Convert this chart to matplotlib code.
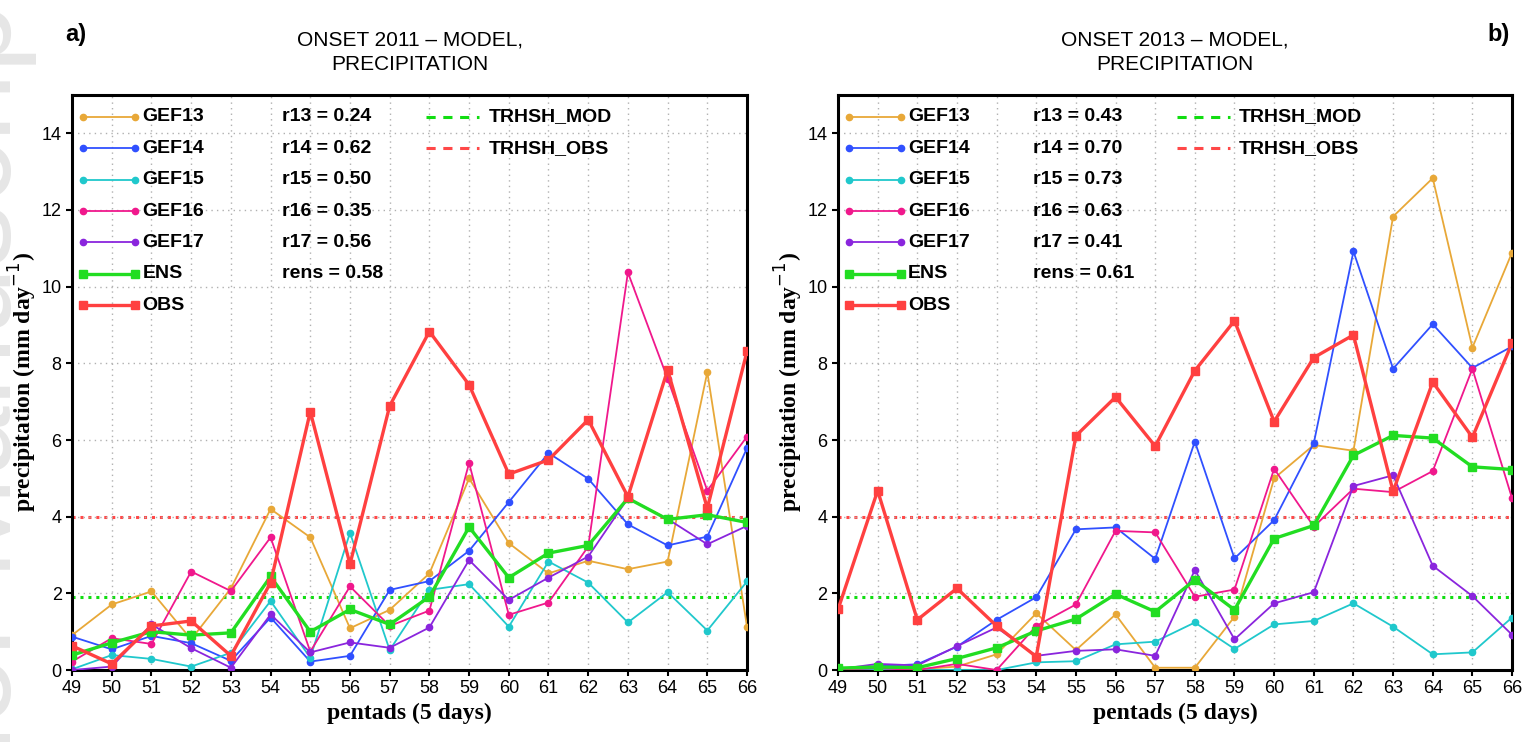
import matplotlib
matplotlib.use('Agg')
import matplotlib.pyplot as plt

# pentads on the x axis
pentads = list(range(49, 67))
xticks = pentads
yticks = [0, 2, 4, 6, 8, 10, 12, 14]

# thresholds
trhsh_mod = 1.9
trhsh_obs = 4.0

# ONSET 2011
gef13_11 = [0.91, 1.71, 2.05, 0.80, 2.13, 4.20, 3.46, 1.09, 1.57, 2.52, 5.00, 3.31, 2.52, 2.85, 2.63, 2.83, 7.77, 1.13]
gef14_11 = [0.87, 0.54, 0.89, 0.70, 0.24, 1.37, 0.22, 0.37, 2.09, 2.32, 3.11, 4.38, 5.66, 4.99, 3.80, 3.25, 3.48, 5.79]
gef15_11 = [0.02, 0.39, 0.29, 0.09, 0.45, 1.80, 0.32, 3.58, 0.52, 2.09, 2.24, 1.13, 2.83, 2.28, 1.24, 2.03, 1.03, 2.31]
gef16_11 = [0.22, 0.83, 0.68, 2.57, 2.06, 3.46, 0.48, 2.18, 1.15, 1.55, 5.40, 1.44, 1.76, 3.22, 10.37, 7.60, 4.68, 6.09]
gef17_11 = [0.00, 0.09, 1.19, 0.57, 0.06, 1.45, 0.46, 0.72, 0.58, 1.11, 2.87, 1.83, 2.41, 2.96, 4.48, 3.94, 3.28, 3.76]
ens_11 = [0.39, 0.71, 1.00, 0.91, 0.97, 2.44, 1.00, 1.58, 1.19, 1.91, 3.73, 2.41, 3.05, 3.25, 4.48, 3.93, 4.05, 3.85]
obs_11 = [0.63, 0.16, 1.15, 1.28, 0.37, 2.28, 6.74, 2.76, 6.89, 8.83, 7.44, 5.11, 5.48, 6.53, 4.52, 7.83, 4.22, 8.31]
r_11 = ['r13 = 0.24', 'r14 = 0.62', 'r15 = 0.50', 'r16 = 0.35', 'r17 = 0.56', 'rens = 0.58']

# ONSET 2013
gef13_13 = [0.02, 0.05, 0.02, 0.09, 0.41, 1.48, 0.52, 1.45, 0.06, 0.06, 1.39, 5.00, 5.87, 5.72, 11.83, 12.83, 8.41, 10.89]
gef14_13 = [0.03, 0.10, 0.15, 0.61, 1.31, 1.90, 3.67, 3.72, 2.90, 5.96, 2.91, 3.91, 5.92, 10.92, 7.86, 9.02, 7.88, 8.44]
gef15_13 = [0.05, 0.02, 0.00, 0.00, 0.00, 0.20, 0.23, 0.67, 0.74, 1.24, 0.55, 1.19, 1.28, 1.74, 1.13, 0.41, 0.46, 1.37]
gef16_13 = [0.02, 0.05, 0.00, 0.16, 0.00, 1.15, 1.71, 3.63, 3.59, 1.91, 2.10, 5.25, 3.74, 4.73, 4.64, 5.19, 7.86, 4.48]
gef17_13 = [0.02, 0.16, 0.12, 0.62, 1.11, 0.37, 0.50, 0.54, 0.37, 2.61, 0.80, 1.74, 2.03, 4.80, 5.08, 2.72, 1.93, 0.92]
ens_13 = [0.05, 0.08, 0.06, 0.30, 0.58, 1.02, 1.33, 1.98, 1.52, 2.35, 1.57, 3.43, 3.77, 5.60, 6.12, 6.05, 5.30, 5.23]
obs_13 = [1.58, 4.68, 1.31, 2.13, 1.15, 0.35, 6.11, 7.12, 5.84, 7.81, 9.11, 6.48, 8.15, 8.74, 4.66, 7.51, 6.07, 8.53]
r_13 = ['r13 = 0.43', 'r14 = 0.70', 'r15 = 0.73', 'r16 = 0.63', 'r17 = 0.41', 'rens = 0.61']

names = ['GEF13', 'GEF14', 'GEF15', 'GEF16', 'GEF17', 'ENS', 'OBS']
colors = ['#E8A838', '#3050FF', '#20C8CC', '#F0188C', '#8A25DD', '#22DD22', '#FF4040']
markers = ['o', 'o', 'o', 'o', 'o', 's', 's']
lwidths = [1.3, 1.3, 1.3, 1.3, 1.3, 2.4, 2.4]
msizes = [4.5, 4.5, 4.5, 4.5, 4.5, 5.5, 5.5]
thr_green = '#11DD11'
thr_red = '#FF4848'

sans = ['Liberation Sans', 'DejaVu Sans']
serif = ['Liberation Serif', 'DejaVu Serif']
narrow = ['Liberation Sans Narrow', 'Liberation Sans', 'DejaVu Sans']

fig = plt.figure(figsize=(15.27, 7.42), dpi=100)

# faint watermark on the left margin (cut by the figure edge, like the source)
fig.text(-0.014, 0.36, 'Author Manuscript', rotation=90, fontsize=90,
         color='#e6e6e6', ha='center', va='center', family=sans, zorder=-5)


def panel(ax, series, rtexts, title, rx):
    ax.axhline(trhsh_mod, color=thr_green, linestyle=(0, (1, 1.6)), linewidth=2.2, zorder=1)
    ax.axhline(trhsh_obs, color=thr_red, linestyle=(0, (1, 1.6)), linewidth=2.2, zorder=1)
    for i, y in enumerate(series):
        ax.plot(pentads, y, color=colors[i], marker=markers[i], linewidth=lwidths[i],
                markersize=msizes[i], zorder=3 + i)
    ax.set_xlim(49, 66)
    ax.set_ylim(0, 15)
    ax.set_xticks(xticks)
    ax.set_yticks(yticks)
    ax.grid(True, color='#b0b0b0', linestyle=(0, (1, 3)), linewidth=1.0, zorder=0)
    ax.tick_params(direction='out', length=4, width=1.5, labelsize=13)
    for lab in ax.get_xticklabels() + ax.get_yticklabels():
        lab.set_family(sans)
    for s in ax.spines.values():
        s.set_linewidth(2.2)
    ax.set_xlabel('pentads (5 days)', fontsize=17, fontweight='bold', family=serif, labelpad=4)
    ax.set_ylabel('precipitation (mm day$^{-1}$)', fontsize=17, fontweight='bold',
                  family=serif, labelpad=2)
    ax.set_title(title, fontsize=15, family=narrow, pad=18, linespacing=1.35)

    # hand-made legend block
    y0 = 0.962
    dy = 0.0546
    for i in range(7):
        yy = y0 - i * dy
        ax.plot([0.016, 0.093], [yy, yy], transform=ax.transAxes, color=colors[i],
                linewidth=lwidths[i], marker=markers[i], markersize=msizes[i], clip_on=False,
                zorder=12)
        ax.text(0.104, yy, names[i], transform=ax.transAxes, fontsize=14,
                fontweight='bold', family=sans, va='center', zorder=12)
    for i, t in enumerate(rtexts):
        ax.text(rx, y0 - i * dy, t, transform=ax.transAxes, fontsize=14,
                fontweight='bold', family=sans, va='center', zorder=12)
    for i, (lab, c) in enumerate([('TRHSH_MOD', thr_green), ('TRHSH_OBS', thr_red)]):
        yy = y0 - i * dy
        ax.plot([rx + 0.214, rx + 0.292], [yy, yy], transform=ax.transAxes, color=c,
                linestyle=(0, (3, 2.5)), linewidth=2.2, zorder=12)
        ax.text(rx + 0.306, yy, lab, transform=ax.transAxes, fontsize=14,
                fontweight='bold', family=sans, va='center', zorder=12)


ax1 = fig.add_axes([0.0472, 0.097, 0.442, 0.775])
panel(ax1, [gef13_11, gef14_11, gef15_11, gef16_11, gef17_11, ens_11, obs_11], r_11,
      'ONSET 2011 \u2013 MODEL,\nPRECIPITATION', 0.311)

ax2 = fig.add_axes([0.5488, 0.097, 0.4414, 0.775])
panel(ax2, [gef13_13, gef14_13, gef15_13, gef16_13, gef17_13, ens_13, obs_13], r_13,
      'ONSET 2013 \u2013 MODEL,\nPRECIPITATION', 0.289)

fig.text(0.043, 0.953, 'a)', fontsize=17, fontweight='bold', family=sans, ha='left', va='center')
fig.text(0.989, 0.953, 'b)', fontsize=17, fontweight='bold', family=sans, ha='right', va='center')

fig.savefig('out.png', dpi=100)
